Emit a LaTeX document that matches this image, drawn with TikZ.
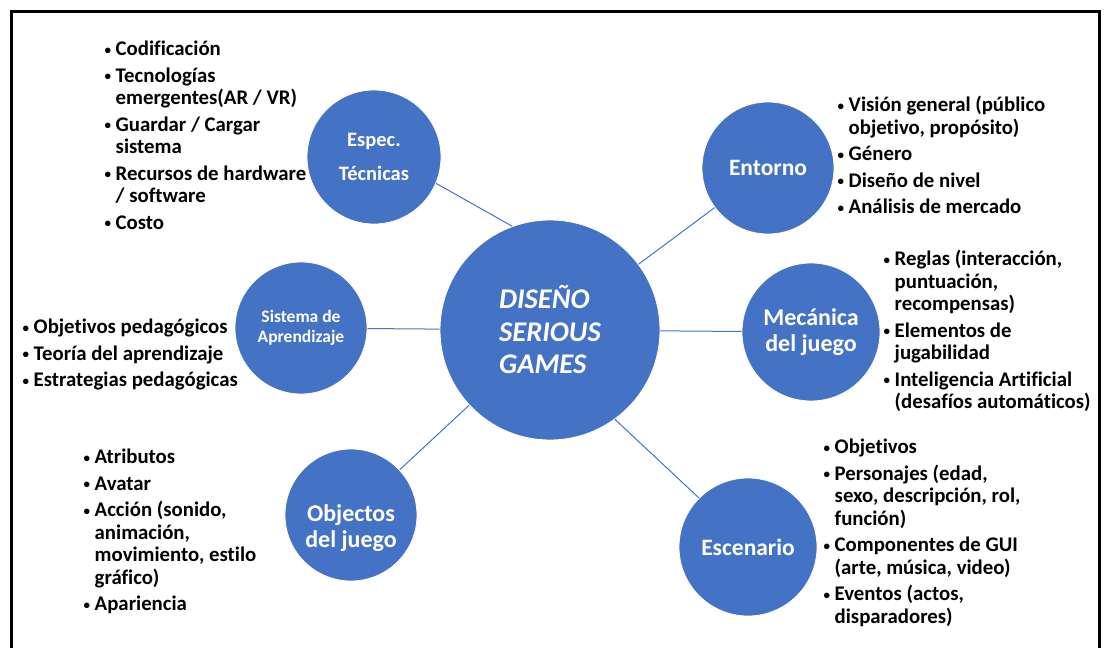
\documentclass[tikz,border=0pt]{standalone}
\usepackage{fontspec}
\setmainfont[Ligatures=NoCommon]{Carlito}
\definecolor{hubblue}{HTML}{4472C4}
% bullet line and continuation line of a list item
\newcommand{\bdot}{\makebox[11.5pt][l]{\hspace*{0.5pt}\raisebox{1.5pt}{\fontsize{13}{13}\selectfont•}}}
\newcommand{\bitem}[1]{\bdot#1}
\newcommand{\bcont}[1]{\hspace*{11.5pt}#1}
\newcommand{\listfont}{\fontsize{20.8}{22.5}\selectfont\bfseries}
\begin{document}
\begin{tikzpicture}[x=1pt,y=-1pt,
  hub/.style={circle, fill=hubblue, draw=white, line width=0.8pt, text=white,
    align=center, inner sep=0pt, minimum size=#1},
  hubtext/.style={text=white, align=center, inner sep=0pt},
  link/.style={draw=hubblue, line width=1pt},
  lst/.style={anchor=base west, inner sep=0pt, font=\listfont}
]
\useasboundingbox (0,0) rectangle (1109,648);
% outer frame (open at the bottom)
\draw[line width=3pt] (11,650) -- (11,11.5) -- (1099,11.5) -- (1099,650);

% central topic
\node[hub=220pt, align=left, font=\fontsize{28.5}{32.5}\selectfont\bfseries\itshape] (c) at (550,330)
  {DISEÑO\\SERIOUS\\GAMES};

% satellite topics
\node[hub=134pt, font=\fontsize{20.5}{22}\selectfont\bfseries] (esp) at (374,157)
  {Espec.\\[12pt]Técnicas};
\node[hub=132pt, font=\fontsize{23.5}{26}\selectfont\bfseries] (ent) at (768,168) {Entorno};
\node[hub=132pt, font=\fontsize{17.5}{20}\selectfont\bfseries] (sis) at (301,328)
  {Sistema de\\Aprendizaje};
\node[hub=138pt, font=\fontsize{24}{26}\selectfont\bfseries] (mec) at (811,332)
  {Mecánica\\del juego};
\node[hub=132pt] (obj) at (351,515) {};
\node[hubtext, font=\fontsize{24}{26}\selectfont\bfseries] (objt) at (351,528)
  {Objectos\\del juego};
\node[hub=138pt, font=\fontsize{23.5}{26}\selectfont\bfseries] (esc) at (748,547) {Escenario};

% connectors from the hub
\draw[link] (c.110.7) -- (esp.-23);
\draw[link] (c.-54) -- (esc.135.6);
\foreach \n in {ent,sis,mec,obj} \draw[link] (c) -- (\n);

% bullet lists
\node[lst] (lesp) at (104,55.5) {\begin{tabular}[t]{@{}l@{}}
\bitem{Codificación}\\[4pt]
\bitem{Tecnologías}\\
\bcont{emergentes(AR / VR)}\\[4pt]
\bitem{Guardar / Cargar}\\
\bcont{sistema}\\[4pt]
\bitem{Recursos de hardware}\\
\bcont{/ software}\\[4pt]
\bitem{Costo}
\end{tabular}};

\node[lst] (lent) at (837,111.5) {\begin{tabular}[t]{@{}l@{}}
\bitem{Visión general (público}\\
\bcont{objetivo, propósito)}\\[4pt]
\bitem{Género}\\[4pt]
\bitem{Diseño de nivel}\\[4pt]
\bitem{Análisis de mercado}
\end{tabular}};

\node[lst] (lsis) at (22,333.5) {\begin{tabular}[t]{@{}l@{}}
\bitem{Objetivos pedagógicos}\\[4pt]
\bitem{Teoría del aprendizaje}\\[4pt]
\bitem{Estrategias pedagógicas}
\end{tabular}};

\node[lst] (lmec) at (883,265.5) {\begin{tabular}[t]{@{}l@{}}
\bitem{Reglas (interacción,}\\
\bcont{puntuación,}\\
\bcont{recompensas)}\\[4pt]
\bitem{Elementos de}\\
\bcont{jugabilidad}\\[4pt]
\bitem{Inteligencia Artificial}\\
\bcont{(desafíos automáticos)}
\end{tabular}};

\node[lst] (lobj) at (83,463.5) {\begin{tabular}[t]{@{}l@{}}
\bitem{Atributos}\\[4pt]
\bitem{Avatar}\\[4pt]
\bitem{Acción (sonido,}\\
\bcont{animación,}\\
\bcont{movimiento, estilo}\\
\bcont{gráfico)}\\[4pt]
\bitem{Apariencia}
\end{tabular}};

\node[lst] (lesc) at (823,453.5) {\begin{tabular}[t]{@{}l@{}}
\bitem{Objetivos}\\[4pt]
\bitem{Personajes (edad,}\\
\bcont{sexo, descripción, rol,}\\
\bcont{función)}\\[4pt]
\bitem{Componentes de GUI}\\
\bcont{(arte, música, video)}\\[4pt]
\bitem{Eventos (actos,}\\
\bcont{disparadores)}
\end{tabular}};
\end{tikzpicture}
\end{document}
